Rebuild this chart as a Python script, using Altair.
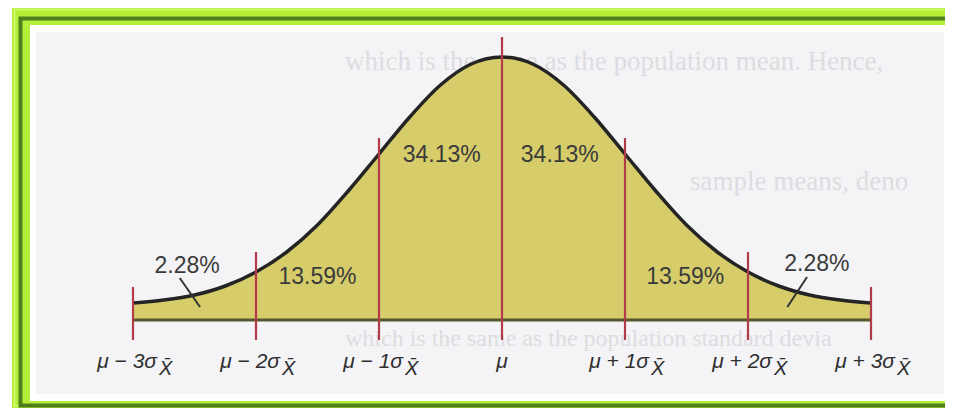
import altair as alt
import pandas as pd

# ---------------- data ----------------
sigma_ticks = [-3, -2, -1, 0, 1, 2, 3]
rule_tops = [33, 68, 182, 283, 182, 68, 33]
rule_bottom = -20

curve_z = [-3.0, -2.75, -2.5, -2.25, -2.0, -1.75, -1.5, -1.25, -1.0, -0.75, -0.5, -0.25, 0.0,
           0.25, 0.5, 0.75, 1.0, 1.25, 1.5, 1.75, 2.0, 2.25, 2.5, 2.75, 3.0]
curve_h = [17, 20, 25, 34, 48, 68, 95, 129, 166, 203, 235, 256, 263,
           256, 235, 203, 166, 129, 95, 68, 48, 34, 25, 20, 17]

pct_text = ["2.28%", "13.59%", "34.13%", "34.13%", "13.59%", "2.28%"]
pct_x = [-2.56, -1.5, -0.49, 0.47, 1.49, 2.56]
pct_y = [54, 43, 165, 165, 43, 56]

leader_id = ["L", "L", "R", "R"]
leader_x = [-2.62, -2.455, 2.48, 2.32]
leader_y = [42, 13, 43, 13]

side_ticks = [-3, -2, -1, 1, 2, 3]
side_text = ["μ − 3σ", "μ − 2σ", "μ − 1σ", "μ + 1σ", "μ + 2σ", "μ + 3σ"]
sub_text = ["X\u0304"] * 6
center_text = ["μ"]

ghost_lines = ["which is the same as the population mean. Hence,",
               "sample means, deno",
               "which is the same as the population standard devia"]

# ---------------- geometry of scales ----------------
W, H = 937, 400
PX = 123.0
XMIN = -3 - 125 / PX
XMAX = XMIN + W / PX
YMIN, YMAX = -88, 312

xs = alt.Scale(domain=[XMIN, XMAX], nice=False, zero=False)
ys = alt.Scale(domain=[YMIN, YMAX], nice=False, zero=False)

one = pd.DataFrame({"a": [0]})

def box(x, x2, y, y2, **kw):
    return alt.Chart(one).mark_rect(**kw).encode(
        x=alt.value(x), x2=alt.value(x2), y=alt.value(y), y2=alt.value(y2))

frame_outer = box(4, 937, 0, 400, color="#b4ee38")
frame_light = box(6.5, 980, 1.5, 398, fill=None, filled=False, stroke="#d2fa72", strokeWidth=1.5)
frame_stripe = box(12.5, 980, 10.5, 397.5, fill=None, filled=False, stroke="#4f7e1d", strokeWidth=4)
frame_white = box(22, 937, 17, 393, color="#ffffff")
scan = box(28, 936, 24, 386, color="#f4f4f6")

ghost_df = pd.DataFrame({"t": ghost_lines, "px": [337, 682, 337], "py": [62, 182, 338],
                         "fs": [27, 27, 24]})
ghost = alt.Chart(ghost_df).mark_text(
    font="Liberation Serif", color="#dddde1", align="left", baseline="alphabetic"
).encode(x=alt.X("px:Q", scale=None), y=alt.Y("py:Q", scale=None), text="t:N",
         size=alt.Size("fs:Q", scale=None, legend=None))

curve_df = pd.DataFrame({"z": curve_z, "h": curve_h})
area = alt.Chart(curve_df).mark_area(color="#d6cd6a", interpolate="monotone", opacity=1).encode(
    x=alt.X("z:Q", scale=xs, axis=None),
    y=alt.Y("h:Q", scale=ys, axis=None),
    y2=alt.datum(0),
)
curve = alt.Chart(curve_df).mark_line(color="#242424", strokeWidth=3.5, interpolate="monotone").encode(
    x=alt.X("z:Q", scale=xs, axis=None),
    y=alt.Y("h:Q", scale=ys, axis=None),
)

base_df = pd.DataFrame({"z": [sigma_ticks[0], sigma_ticks[-1]], "h": [0, 0]})
baseline = alt.Chart(base_df).mark_line(color="#56552c", strokeWidth=3).encode(
    x=alt.X("z:Q", scale=xs, axis=None),
    y=alt.Y("h:Q", scale=ys, axis=None),
)

rules_df = pd.DataFrame({"z": sigma_ticks, "top": rule_tops, "bot": [rule_bottom] * len(sigma_ticks)})
rules = alt.Chart(rules_df).mark_rule(color="#b33a48", strokeWidth=2.2).encode(
    x=alt.X("z:Q", scale=xs, axis=None),
    y=alt.Y("bot:Q", scale=ys, axis=None),
    y2="top:Q",
)

leader_df = pd.DataFrame({"id": leader_id, "z": leader_x, "h": leader_y})
leaders = alt.Chart(leader_df).mark_line(color="#333333", strokeWidth=2).encode(
    x=alt.X("z:Q", scale=xs, axis=None),
    y=alt.Y("h:Q", scale=ys, axis=None),
    detail="id:N",
)

pct_df = pd.DataFrame({"t": pct_text, "z": pct_x, "h": pct_y})
pcts = alt.Chart(pct_df).mark_text(
    font="Liberation Sans", fontSize=23, color="#3a3a3a", baseline="middle", align="center"
).encode(x=alt.X("z:Q", scale=xs, axis=None), y=alt.Y("h:Q", scale=ys, axis=None), text="t:N")

lab_df = pd.DataFrame({"t": side_text, "s": sub_text, "z": side_ticks, "h": [-48] * 6, "hs": [-55] * 6})
labs = alt.Chart(lab_df).mark_text(
    font="Liberation Sans", fontSize=21, fontStyle="italic", color="#2e2e2e",
    align="right", baseline="alphabetic", dx=24
).encode(x=alt.X("z:Q", scale=xs, axis=None), y=alt.Y("h:Q", scale=ys, axis=None), text="t:N")
subs = alt.Chart(lab_df).mark_text(
    font="Liberation Sans", fontSize=20, fontStyle="italic", color="#2e2e2e",
    align="left", baseline="alphabetic", dx=26
).encode(x=alt.X("z:Q", scale=xs, axis=None), y=alt.Y("hs:Q", scale=ys, axis=None), text="s:N")

mu_df = pd.DataFrame({"t": center_text, "z": [0], "h": [-48]})
mu = alt.Chart(mu_df).mark_text(
    font="Liberation Sans", fontSize=21, fontStyle="italic", color="#2e2e2e",
    align="center", baseline="alphabetic"
).encode(x=alt.X("z:Q", scale=xs, axis=None), y=alt.Y("h:Q", scale=ys, axis=None), text="t:N")

chart = alt.layer(
    frame_outer, frame_light, frame_stripe, frame_white, scan, ghost,
    area, baseline, curve, rules, leaders, pcts, labs, subs, mu
).properties(
    width=W, height=H, padding=0, autosize="none", background="#ffffff"
).configure_view(stroke=None)

chart.save("out.html", embed_options={"renderer": "svg", "actions": False})
